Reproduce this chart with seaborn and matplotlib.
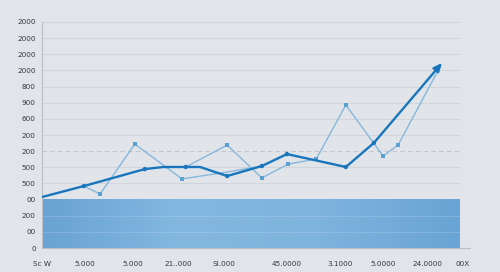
import numpy as np
import pandas as pd
import matplotlib
matplotlib.use("Agg")
import matplotlib.pyplot as plt
import seaborn as sns
from matplotlib.colors import LinearSegmentedColormap

# ---- data ----
y_tick_labels = ["0", "00", "200", "00", "500", "500", "200", "200", "600",
                 "900", "800", "2000", "2000", "2000", "2000"]
x_tick_pos = [0, 10.3, 21.8, 32.5, 43.5, 58.6, 71.3, 81.6, 92.3, 100.7]
x_tick_labels = ["Sc W", "5.000", "5.000", "21..000", "SI.000", "45.0000",
                 "3.1000", "5.0000", "24.0000", "00X"]

main_x = [0, 10.0, 24.6, 29.0, 34.4, 37.8, 44.3, 52.6, 58.6, 72.7, 79.4, 95.7]
main_y = [3.16, 3.84, 4.89, 5.02, 5.02, 5.02, 4.46, 5.08, 5.82, 5.02, 6.51, 11.46]
main_marked = [1, 2, 4, 6, 7, 8, 9, 10]

light1_x = [10.0, 13.9, 22.2, 33.5, 44.3, 52.6]
light1_y = [3.84, 3.35, 6.44, 4.28, 4.71, 5.08]

light2_x = [34.4, 44.3, 52.6, 58.9, 65.6, 72.7, 81.6, 85.2, 95.2]
light2_y = [5.02, 6.38, 4.34, 5.20, 5.51, 8.86, 5.70, 6.38, 11.21]

band_level = 3.0
dashed_level = 6

# ---- styling ----
sns.set_theme(style="white")
plt.rcParams["font.family"] = ["DejaVu Sans"]

BG = "#e1e4e9"
DARK = "#1976bd"
LIGHT = "#86b7dc"
LIGHT_MK = "#5c9fd1"

fig = plt.figure(figsize=(5.0, 2.72), dpi=100, facecolor=BG)
ax = fig.add_axes([0.084, 0.088, 0.856, 0.855])
ax.set_facecolor("none")

xmax_grid = 100
ax.set_xlim(0, 102.4)
ax.set_ylim(0, 14.4)

# band with horizontal gradient
cmap = LinearSegmentedColormap.from_list("band", ["#68a3d4", "#84b8e0", "#7eb3dd", "#68a4d5"])
grad = np.linspace(0, 1, 256).reshape(1, -1)
ax.imshow(grad, extent=(0, xmax_grid, 0, band_level), aspect="auto", cmap=cmap,
          zorder=1, interpolation="bicubic")

# grid lines
for lv in range(1, len(y_tick_labels)):
    if lv == dashed_level:
        ax.hlines(lv, 0, xmax_grid, colors="#c4c8ce", linestyles=(0, (4, 3)), linewidth=0.8, zorder=2)
    elif lv < band_level:
        ax.hlines(lv, 0, xmax_grid, colors="#ffffff", alpha=0.15, linewidth=0.8, zorder=2)
    elif lv == band_level:
        continue
    else:
        ax.hlines(lv, 0, xmax_grid, colors="#d2d6dc", linewidth=0.8, zorder=2)

# light series
sns.lineplot(x=light1_x, y=light1_y, sort=False, color=LIGHT, linewidth=1.0, ax=ax, zorder=3)
sns.lineplot(x=light2_x, y=light2_y, sort=False, color=LIGHT, linewidth=1.0, ax=ax, zorder=3)
sns.scatterplot(x=light1_x[1:-2], y=light1_y[1:-2], marker="s", s=10, color=LIGHT_MK,
                edgecolor="none", ax=ax, zorder=4)
sns.scatterplot(x=light2_x[1:-1], y=light2_y[1:-1], marker="s", s=10, color=LIGHT_MK,
                edgecolor="none", ax=ax, zorder=4)

# main series
sns.lineplot(x=main_x[:-1], y=main_y[:-1], sort=False, color=DARK, linewidth=1.7, ax=ax, zorder=5)
sns.scatterplot(x=[main_x[i] for i in main_marked], y=[main_y[i] for i in main_marked],
                marker="o", s=10, color=DARK, edgecolor="none", ax=ax, zorder=6)
ax.annotate("", xy=(main_x[-1], main_y[-1]), xytext=(main_x[-2], main_y[-2]),
            arrowprops=dict(arrowstyle="-|>,head_length=0.4,head_width=0.18",
                            color=DARK, lw=1.7, shrinkA=0, shrinkB=0), zorder=6)

# axes
for s in ["top", "right"]:
    ax.spines[s].set_visible(False)
ax.spines["left"].set_color("#b9bec5")
ax.spines["bottom"].set_color("#b9bec5")
ax.spines["left"].set_linewidth(0.8)
ax.spines["bottom"].set_linewidth(0.8)
ax.spines["left"].set_bounds(0, len(y_tick_labels) - 1)

ax.set_yticks(range(len(y_tick_labels)))
ax.set_yticklabels(y_tick_labels)
ax.set_xticks(x_tick_pos)
ax.set_xticklabels(x_tick_labels)
ax.tick_params(axis="both", which="both", labelsize=5.2, colors="#b9bec5",
               labelcolor="#333840", length=2.5, width=0.6, pad=2)
ax.tick_params(axis="x", pad=7)
ax.set_xlabel("")
ax.set_ylabel("")

fig.savefig("out.png", dpi=100, facecolor=BG)
